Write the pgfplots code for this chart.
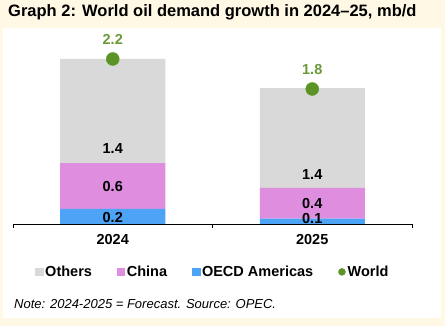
\documentclass[border=0pt]{standalone}
\usepackage{fontspec}
\setmainfont{Liberation Sans}
\usepackage{pgfplots}
\pgfplotsset{compat=1.18}
\definecolor{cream}{HTML}{FFF8E5}
\definecolor{othersgrey}{HTML}{D9D9D9}
\definecolor{chinapink}{HTML}{DF8EDF}
\definecolor{oecdblue}{HTML}{4DA3F5}
\definecolor{worldgreen}{HTML}{5B9424}
\definecolor{labelgreen}{HTML}{6A9A3A}
\begin{document}
\begin{tikzpicture}
\fill[cream] (0pt,0pt) rectangle (445pt,326pt);
\fill[white] (3pt,8pt) rectangle (441pt,298pt);
\node[anchor=base west, font=\fontsize{16.5}{18}\selectfont\bfseries, inner sep=0] at (8pt,309pt) {Graph 2: World oil demand growth in 2024–25, mb/d};
\begin{axis}[at={(13pt,102pt)}, anchor=south west, scale only axis,
  width=399pt, height=194pt, xmin=-0.5, xmax=1.5, ymin=0, ymax=2.5867,
  ybar stacked, bar width=105pt,
  axis x line=bottom, axis y line=none,
  x axis line style={-, black, line width=0.9pt},
  xtick={0,1}, xticklabels={2024,2025}, major tick length=0pt,
  minor xtick={-0.5,0.5,1.5}, minor tick length=4pt, tick align=outside,
  minor tick style={black, line width=0.9pt},
  xticklabel style={font=\fontsize{14.5}{16}\selectfont\bfseries, yshift=-6.5pt},
  axis on top, clip=false]
\addplot[fill=oecdblue, draw=none] coordinates {(0,0.20) (1,0.07)};
\addplot[fill=chinapink, draw=none] coordinates {(0,0.61) (1,0.41)};
\addplot[fill=othersgrey, draw=none] coordinates {(0,1.39) (1,1.33)};
\end{axis}
\begin{axis}[at={(13pt,102pt)}, anchor=south west, scale only axis,
  width=399pt, height=194pt, xmin=-0.5, xmax=1.5, ymin=0, ymax=2.5867,
  hide axis, clip=false, legend columns=4,
  legend style={at={(0.501,-0.247)}, anchor=center, draw=none, fill=none,
    font=\fontsize{14.5}{16}\selectfont\bfseries,
    /tikz/every even column/.append style={column sep=23pt},
    inner sep=0pt, nodes={inner sep=2pt}},
  legend cell align=left]
\addlegendimage{legend image code/.code={\fill[othersgrey] (0pt,-3.75pt) rectangle (7.5pt,3.75pt);}}
\addlegendentry{Others}
\addlegendimage{legend image code/.code={\fill[chinapink] (0pt,-3.75pt) rectangle (7.5pt,3.75pt);}}
\addlegendentry{China}
\addlegendimage{legend image code/.code={\fill[oecdblue] (0pt,-3.75pt) rectangle (7.5pt,3.75pt);}}
\addlegendentry{OECD Americas}
\addlegendimage{legend image code/.code={\fill[worldgreen] (3.5pt,0pt) circle (3.5pt);}}
\addlegendentry{World}
\addplot[forget plot, only marks, mark=*, mark size=6.5pt, color=worldgreen,
  nodes near coords, point meta=explicit symbolic,
  every node near coord/.style={anchor=center, yshift=19.7pt, font=\fontsize{14.5}{16}\selectfont\bfseries, text=labelgreen}]
  table[meta=lab, row sep=\\] {x y lab\\ 0 2.2 2.2\\ 1 1.8 1.8\\};
\addplot[forget plot, only marks, mark=none,
  nodes near coords, point meta=explicit symbolic,
  every node near coord/.style={anchor=center, font=\fontsize{14.5}{16}\selectfont\bfseries, text=black}]
  table[meta=lab, row sep=\\] {x y lab\\ 0 0.093 0.2\\ 0 0.497 0.6\\ 0 1.004 1.4\\ 1 0.069 0.1\\ 1 0.27 0.4\\ 1 0.657 1.4\\};
\end{axis}
\node[anchor=base west, font=\fontsize{13}{15}\selectfont\itshape, inner sep=0] at (14pt,17.3pt) {Note: 2024-2025 = Forecast. Source: OPEC.};
\pgfresetboundingbox
\path[use as bounding box] (0pt,0pt) rectangle (445pt,326pt);
\end{tikzpicture}
\end{document}
